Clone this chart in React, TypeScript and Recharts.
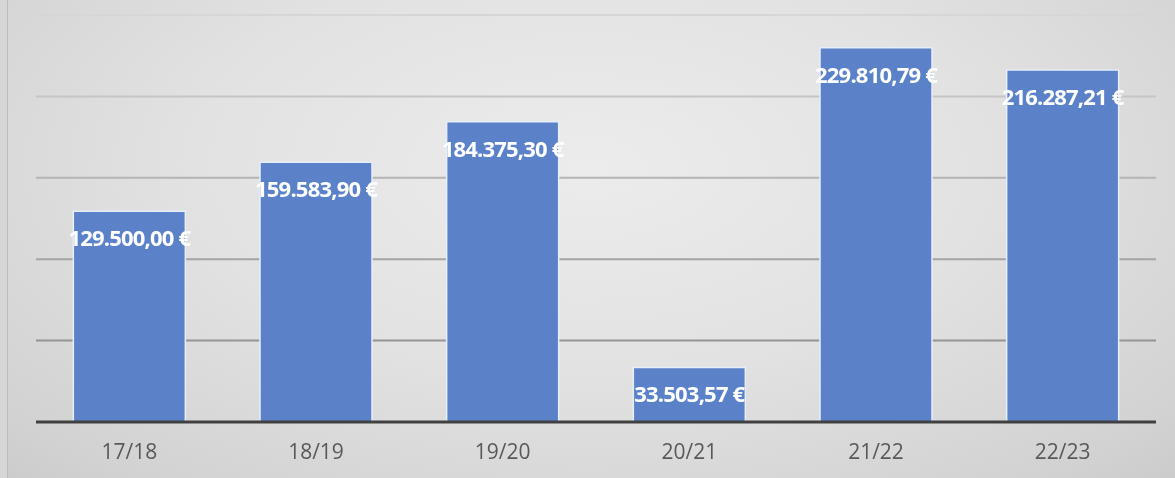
import React from "react";
import { BarChart, Bar, XAxis, YAxis, CartesianGrid, LabelList, ReferenceLine } from "recharts";

const categories = ["17/18", "18/19", "19/20", "20/21", "21/22", "22/23"];
const amounts = [129500.0, 159583.9, 184375.3, 33503.57, 229810.79, 216287.21];
const yTicks = [0, 50000, 100000, 150000, 200000, 250000];

const data = categories.map((c, i) => ({ season: c, amount: amounts[i] }));

const fmt = (v: number) => {
  const [int, dec] = v.toFixed(2).split(".");
  const withDots = int.replace(/\B(?=(\d{3})+(?!\d))/g, ".");
  return `${withDots},${dec} €`;
};

const renderLabel = (props: any) => {
  const { x, y, width, value } = props;
  return (
    <text
      x={Number(x) + Number(width) / 2}
      y={Number(y) + 35}
      textAnchor="middle"
      fill="#ffffff"
      fontFamily="'Open Sans', sans-serif"
      fontWeight={700}
      fontSize={22}
      letterSpacing={-0.8}
    >
      {fmt(Number(value))}
    </text>
  );
};

export default function App() {
  return (
    <div
      style={{
        position: "fixed",
        left: 0,
        top: 0,
        width: 1175,
        height: 478,
        overflow: "hidden",
        background:
          "radial-gradient(ellipse 75% 95% at 50% 35%, #ececec 0%, #e2e2e2 45%, #d2d2d2 85%, #c9c9c9 100%)",
      }}
    >
      <div
        style={{
          position: "absolute",
          left: 0,
          top: 0,
          width: 7,
          height: 478,
          background: "#d6d6d6",
          borderRight: "1px solid #bcbcbc",
        }}
      />
      <BarChart
        width={1175}
        height={478}
        data={data}
        margin={{ top: 15, right: 19, left: 36, bottom: 0 }}
        barCategoryGap="20%"
        style={{ position: "absolute", left: 0, top: 0 }}
      >
        <defs>
          <linearGradient id="gridGrad" gradientUnits="userSpaceOnUse" x1="0" y1="15" x2="0" y2="422">
            <stop offset="0%" stopColor="#d6d6d6" />
            <stop offset="50%" stopColor="#acacac" />
            <stop offset="100%" stopColor="#858585" />
          </linearGradient>
        </defs>
        <CartesianGrid vertical={false} stroke="url(#gridGrad)" strokeWidth={2} />
        <YAxis hide width={0} domain={[0, 250000]} ticks={yTicks} />
        <XAxis
          dataKey="season"
          height={56}
          axisLine={false}
          tickLine={false}
          tickSize={6}
          tickMargin={16}
          tick={{ fill: "#595959", fontSize: 21, fontFamily: "'Open Sans', sans-serif" }}
        />
        <Bar dataKey="amount" fill="#5b82c9" stroke="#e6eefa" strokeWidth={1.5} isAnimationActive={false}>
          <LabelList dataKey="amount" content={renderLabel} />
        </Bar>
        <ReferenceLine y={0} stroke="#404040" strokeWidth={3} />
      </BarChart>
    </div>
  );
}
